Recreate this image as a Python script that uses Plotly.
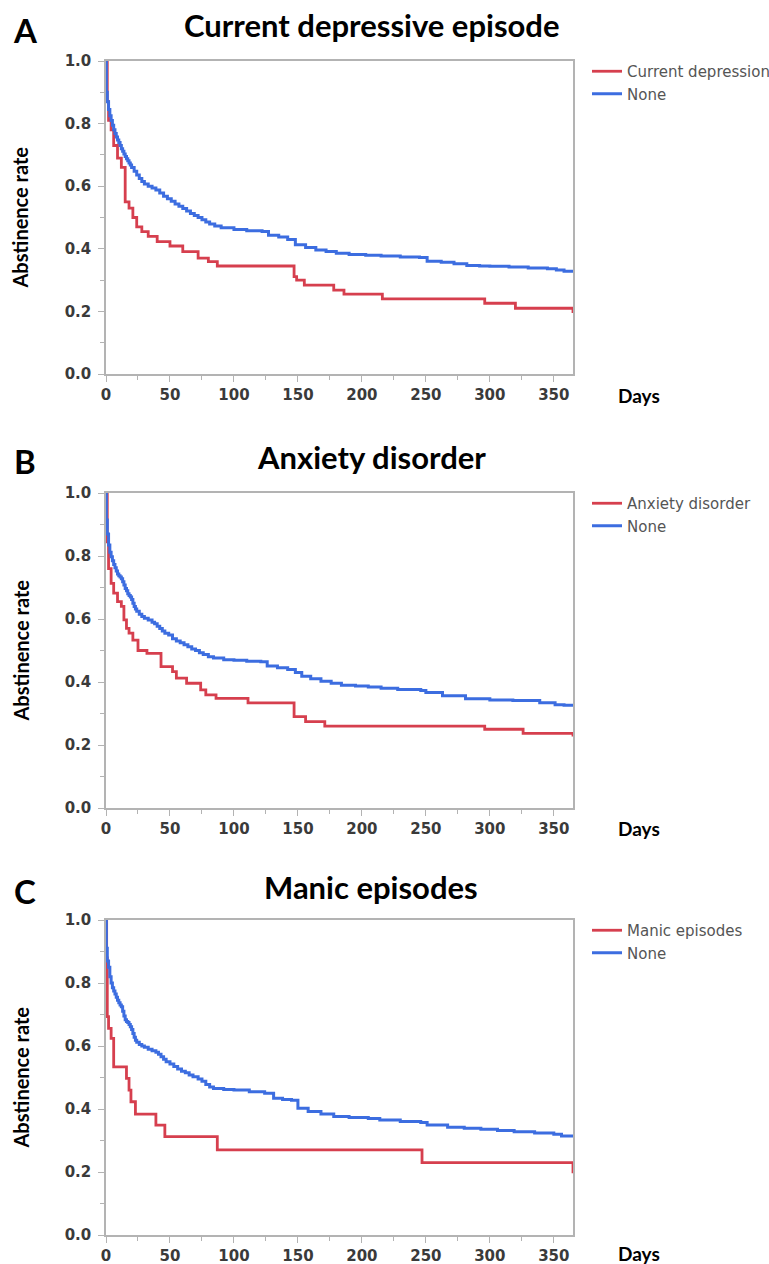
import plotly.graph_objects as go

W, H = 769, 1264

# ---------------- data ----------------
panel_letters = ["A", "B", "C"]
panel_titles = ["Current depressive episode", "Anxiety disorder", "Manic episodes"]
group_labels = ["Current depression", "Anxiety disorder", "Manic episodes"]
none_label = "None"

x_ticks = [0, 50, 100, 150, 200, 250, 300, 350]
y_ticks = [0.0, 0.2, 0.4, 0.6, 0.8, 1.0]
y_tick_text = ["0.0", "0.2", "0.4", "0.6", "0.8", "1.0"]

# Panel A
a_red_days = [0, 1, 2, 4, 6, 9, 12, 15, 18, 21, 24, 28, 33, 40, 50, 60, 72, 80, 87,
              147, 149, 155, 178, 186, 216, 296, 320, 365]
a_red_surv = [1.0, 0.87, 0.81, 0.78, 0.73, 0.69, 0.66, 0.55, 0.53, 0.50, 0.47, 0.455, 0.44,
              0.423, 0.409, 0.391, 0.37, 0.359, 0.345, 0.311, 0.30, 0.284, 0.268, 0.255,
              0.24, 0.226, 0.21, 0.195]
a_blue_days = [0, 0.3, 1, 2, 3, 4, 5, 6, 7, 8, 9, 10, 11, 12, 13, 14, 15, 16, 17, 18, 19,
               20, 22, 24, 26, 28, 30, 33, 36, 39, 42, 45, 48, 51, 54, 57, 60, 63, 66, 69,
               72, 75, 78, 81, 85, 90, 100, 110, 122, 127, 135, 142, 148, 156, 164,
               172, 180, 190, 203, 215, 230, 245, 251, 262, 272, 282, 292, 300, 315, 330,
               345, 352, 358, 365]
a_blue_surv = [1.0, 0.90, 0.87, 0.845, 0.825, 0.81, 0.795, 0.78, 0.768, 0.757, 0.748, 0.74,
               0.73, 0.72, 0.712, 0.703, 0.695, 0.688, 0.681, 0.674, 0.668, 0.66, 0.648,
               0.636, 0.625, 0.615, 0.607, 0.6, 0.594, 0.588, 0.578, 0.568, 0.56, 0.552,
               0.543, 0.536, 0.529, 0.521, 0.513, 0.506, 0.5, 0.493, 0.486, 0.479, 0.473,
               0.467, 0.462, 0.458, 0.455, 0.443, 0.438, 0.43,
               0.413, 0.404, 0.396, 0.391, 0.386, 0.382, 0.379, 0.377, 0.374, 0.372, 0.36,
               0.357, 0.352, 0.347, 0.345, 0.344, 0.342, 0.339, 0.336, 0.332, 0.328, 0.326]

# Panel B
b_red_days = [0, 1, 2, 4, 6, 9, 12, 14, 16, 18, 21, 25, 32, 43, 52, 55, 63, 74, 78, 86,
              111, 147, 156, 171, 296, 326, 365]
b_red_surv = [1.0, 0.845, 0.76, 0.713, 0.682, 0.655, 0.64, 0.597, 0.57, 0.555, 0.533, 0.50,
              0.491, 0.449, 0.433, 0.412, 0.396, 0.375, 0.359, 0.348, 0.334, 0.29, 0.274,
              0.26, 0.25, 0.237, 0.227]
b_blue_days = [0, 0.3, 1, 2, 3, 4, 5, 6, 7, 8, 9, 10, 11, 12, 13, 14, 15, 16, 17, 18, 19,
               20, 21, 22, 23, 24, 26, 28, 30, 33, 36, 38, 40, 42, 44, 46, 49, 52, 55, 58,
               61, 64, 67, 70, 73, 76, 80, 84, 92, 100, 110, 121, 126, 134, 142, 148, 153,
               160, 168, 176, 184, 195, 205, 215, 228, 246, 250, 263, 281, 300, 318, 339,
               351, 358, 365]
b_blue_surv = [1.0, 0.914, 0.87, 0.835, 0.812, 0.798, 0.785, 0.773, 0.763, 0.752, 0.743,
               0.737, 0.733, 0.728, 0.718, 0.708, 0.697, 0.69, 0.68, 0.675, 0.67, 0.662,
               0.65, 0.64, 0.632, 0.625, 0.615, 0.608, 0.602, 0.597, 0.59, 0.585, 0.577,
               0.57, 0.562, 0.555, 0.549, 0.537, 0.53, 0.525, 0.518, 0.512, 0.505, 0.5,
               0.493, 0.487, 0.48, 0.476, 0.471, 0.469, 0.466, 0.464, 0.451,
               0.445, 0.44, 0.43, 0.418, 0.41, 0.402, 0.396, 0.39, 0.387, 0.384, 0.38,
               0.376, 0.373, 0.367, 0.356, 0.347, 0.343, 0.341, 0.334, 0.328, 0.326, 0.324]

# Panel C
c_red_days = [0, 0.5, 1, 2, 4, 6, 16, 18, 19.5, 23, 39, 46, 87, 247, 365]
c_red_surv = [1.0, 0.88, 0.693, 0.656, 0.624, 0.534, 0.497, 0.46, 0.423, 0.384, 0.349,
              0.312, 0.27, 0.23, 0.196]
c_blue_days = [0, 0.3, 1, 2, 3, 4, 5, 6, 7, 8, 9, 10, 11, 12, 13, 14, 15, 16, 17, 18, 19,
               20, 21, 22, 23, 24, 26, 28, 30, 33, 36, 39, 41, 43, 45, 47, 50, 53, 56, 59,
               62, 65, 68, 72, 75, 78, 81, 84, 92, 100, 112, 124, 131, 138, 145, 150, 158,
               168, 178, 190, 205, 214, 230, 246, 251, 267, 280, 293, 306, 319, 335, 350,
               356, 365]
c_blue_surv = [1.0, 0.91, 0.87, 0.85, 0.82, 0.80, 0.785, 0.775, 0.765, 0.755, 0.745, 0.737,
               0.73, 0.725, 0.71, 0.695, 0.683, 0.678, 0.675, 0.668, 0.661, 0.652, 0.64,
               0.628, 0.618, 0.612, 0.605, 0.6, 0.596, 0.59, 0.585, 0.58, 0.574, 0.566,
               0.558, 0.55, 0.543, 0.535, 0.527, 0.52, 0.515, 0.508, 0.502, 0.495, 0.488,
               0.478, 0.47, 0.465, 0.462, 0.46, 0.455, 0.45, 0.434, 0.43, 0.428, 0.402,
               0.392, 0.384, 0.376, 0.373, 0.37, 0.365, 0.36, 0.357, 0.349, 0.342, 0.339,
               0.336, 0.332, 0.328, 0.324, 0.32, 0.314, 0.312]

red_days = [a_red_days, b_red_days, c_red_days]
red_surv = [a_red_surv, b_red_surv, c_red_surv]
blue_days = [a_blue_days, b_blue_days, c_blue_days]
blue_surv = [a_blue_surv, b_blue_surv, c_blue_surv]

# ---------------- layout geometry (page pixels) ----------------
plot_left, plot_right = 106, 573
plot_tops = [61, 493, 920]
plot_bottoms = [374, 808, 1235]
title_y = [25, 457, 887]
letter_y = [30, 461, 891]
days_y = [395, 828, 1253]

RED = "#d63f4e"
BLUE = "#3c6de0"
AXIS = "#b3b3b3"
TICKFONT = dict(family="DejaVu Sans", size=15, color="#3a3a3a", weight="bold")
BOLD = "Lato"

def px(x):
    return x / W

def py(y):
    return 1 - y / H

fig = go.Figure()
annotations = []
layout = {}

def label(text, x, y, size, angle=0):
    return dict(text=text, x=px(x), y=py(y), xref="paper", yref="paper",
                xanchor="center", yanchor="middle", showarrow=False, textangle=angle,
                font=dict(family=BOLD, size=size, color="black", weight="bold"))

for i in range(3):
    sfx = "" if i == 0 else str(i + 1)
    xa, ya = "x" + sfx, "y" + sfx
    leg = "legend" + sfx
    fig.add_trace(go.Scatter(x=red_days[i], y=red_surv[i], mode="lines",
                             line=dict(color=RED, width=2.8, shape="hv"),
                             name=group_labels[i], xaxis=xa, yaxis=ya, legend=leg))
    fig.add_trace(go.Scatter(x=blue_days[i], y=blue_surv[i], mode="lines",
                             line=dict(color=BLUE, width=3, shape="hv"),
                             name=none_label, xaxis=xa, yaxis=ya, legend=leg))

    layout["xaxis" + sfx] = dict(
        domain=[px(plot_left), px(plot_right)], anchor=ya, range=[0, 365],
        automargin=False,
        tickmode="array", tickvals=x_ticks, ticktext=[str(v) for v in x_ticks],
        ticks="outside", ticklen=6, tickcolor=AXIS, tickwidth=1,
        showline=True, linecolor=AXIS, linewidth=1.5, mirror=True,
        showgrid=False, zeroline=False, tickfont=TICKFONT,
        minor=dict(dtick=25, tick0=0, ticks="outside", ticklen=4, tickcolor=AXIS,
                   showgrid=False),
    )
    layout["yaxis" + sfx] = dict(
        domain=[py(plot_bottoms[i]), py(plot_tops[i])], anchor=xa, range=[0, 1],
        automargin=False,
        tickmode="array", tickvals=y_ticks, ticktext=y_tick_text,
        ticks="outside", ticklen=6, tickcolor=AXIS, tickwidth=1, ticklabelstandoff=4,
        showline=True, linecolor=AXIS, linewidth=1.5, mirror=True,
        showgrid=False, zeroline=False, tickfont=TICKFONT,
        minor=dict(dtick=0.1, tick0=0, ticks="outside", ticklen=4, tickcolor=AXIS,
                   showgrid=False),
    )
    layout[leg] = dict(
        x=px(587), y=py(plot_tops[i] - 6), xanchor="left", yanchor="top",
        bgcolor="rgba(0,0,0,0)", tracegroupgap=0, itemwidth=30,
        font=dict(family="DejaVu Sans", size=15, color="#555555"),
    )

    annotations.append(label(panel_letters[i], 25, letter_y[i], 33))
    annotations.append(label(panel_titles[i], 371, title_y[i], 31))
    annotations.append(label("Abstinence rate", 20, (plot_tops[i] + plot_bottoms[i]) / 2,
                             20, angle=-90))
    annotations.append(label("Days", 639, days_y[i], 19))

fig.update_layout(
    width=W, height=H, margin=dict(l=0, r=0, t=0, b=0, autoexpand=False),
    paper_bgcolor="white", plot_bgcolor="white",
    annotations=annotations, showlegend=True, **layout,
)

fig.write_html(
    "out.html",
    config={"displayModeBar": False},
    post_script=("document.body.style.margin='0';"
                 "document.body.style.overflow='hidden';"
                 "document.documentElement.style.overflow='hidden';"),
)
